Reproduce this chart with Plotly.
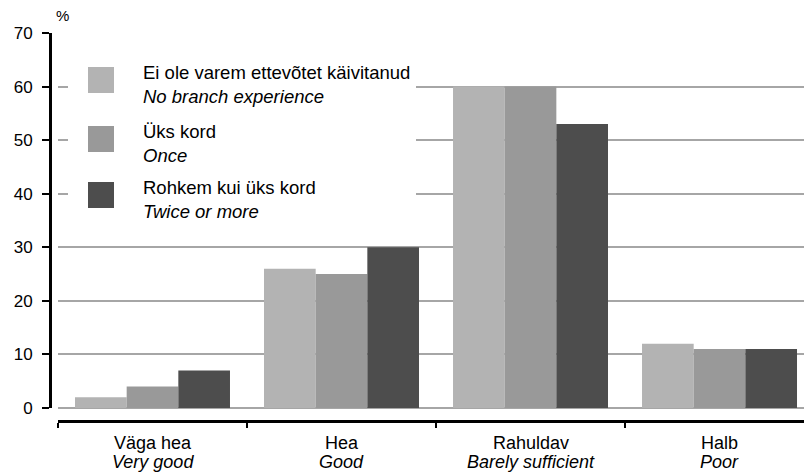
import plotly.graph_objects as go

# ---- data ----
categories_et = ["Väga hea", "Hea", "Rahuldav", "Halb"]
categories_en = ["Very good", "Good", "Barely sufficient", "Poor"]

series_et = ["Ei ole varem ettevõtet käivitanud", "Üks kord", "Rohkem kui üks kord"]
series_en = ["No branch experience", "Once", "Twice or more"]

no_experience = [2, 26, 60, 12]
once = [4, 25, 60, 11]
twice_or_more = [7, 30, 53, 11]

series_values = [no_experience, once, twice_or_more]
colors = ["#b3b3b3", "#999999", "#4d4d4d"]

y_ticks = [0, 10, 20, 30, 40, 50, 60, 70]

# ---- layout geometry (pixels) ----
W, H = 804, 475
ML, MR, MT, MB = 50, 0, 33, 54
PW = W - ML - MR
PH = H - MT - MB


def px_x(px):
    return (px - ML) / PW


def px_y(py):
    return (H - MB - py) / PH


fig = go.Figure()
for name, vals, col in zip(series_et, series_values, colors):
    fig.add_trace(go.Bar(
        x=categories_et, y=vals, name=name,
        marker=dict(color=col, line=dict(width=0)),
        showlegend=False,
    ))

font_family = "Liberation Sans, Arial, sans-serif"

fig.update_layout(
    width=W, height=H,
    margin=dict(l=ML, r=MR, t=MT, b=MB, pad=0, autoexpand=False),
    paper_bgcolor="white", plot_bgcolor="white",
    barmode="group", bargap=0.18, bargroupgap=0,
    font=dict(family=font_family, size=18, color="black"),
    xaxis=dict(
        domain=[px_x(58), 1],
        anchor="free", position=0,
        type="category",
        range=[-0.5, 3.447],
        automargin=False,
        showline=True, linecolor="black", linewidth=3,
        ticks="outside", tickson="boundaries", ticklen=5,
        tickcolor="black", tickwidth=2,
        showgrid=False,
        showticklabels=False,
    ),
    yaxis=dict(
        domain=[px_y(408), 1],
        anchor="free", position=0,
        range=[0, 70],
        tickvals=y_ticks,
        automargin=False,
        showline=True, linecolor="black", linewidth=3,
        ticks="outside", ticklen=7, tickcolor="black", tickwidth=1.5,
        showgrid=True, gridcolor="#a6a6a6", gridwidth=1.5,
        zeroline=True, zerolinecolor="#a6a6a6", zerolinewidth=1.5,
        tickfont=dict(size=17),
        ticklabelstandoff=6,
    ),
)

shapes = []
annotations = []

# category labels (two lines: Estonian + English italic)
for et, en in zip(categories_et, categories_en):
    annotations.append(dict(
        xref="x", yref="paper", x=et, y=px_y(443),
        xanchor="center", yanchor="middle", showarrow=False,
        text=et, font=dict(size=18, family=font_family, color="black"),
    ))
    annotations.append(dict(
        xref="x", yref="paper", x=et, y=px_y(462),
        xanchor="center", yanchor="middle", showarrow=False,
        text=f"<i>{en}</i>", font=dict(size=18, family=font_family, color="black"),
    ))

# legend background box
shapes.append(dict(
    type="rect", xref="paper", yref="paper",
    x0=px_x(68), x1=px_x(416), y0=px_y(228), y1=px_y(48),
    fillcolor="white", line=dict(width=0), layer="above",
))

swatch_centers = [80, 139, 195]
for i, (et, en, col) in enumerate(zip(series_et, series_en, colors)):
    cy = swatch_centers[i]
    shapes.append(dict(
        type="rect", xref="paper", yref="paper",
        x0=px_x(88), x1=px_x(114), y0=px_y(cy + 13), y1=px_y(cy - 13),
        fillcolor=col, line=dict(width=0), layer="above",
    ))
    annotations.append(dict(
        xref="paper", yref="paper", x=px_x(141), y=px_y(cy + 4),
        xanchor="left", yanchor="middle", align="left", showarrow=False,
        text=f"{et}<br><i>{en}</i>",
        font=dict(size=18.5, family=font_family, color="black"),
    ))

# unit label
annotations.append(dict(
    xref="paper", yref="paper", x=px_x(54), y=px_y(16),
    xanchor="left", yanchor="middle", showarrow=False,
    text="%", font=dict(size=15, family=font_family, color="black"),
))

fig.update_layout(shapes=shapes, annotations=annotations)

fig.write_html(
    "out.html",
    config={"displayModeBar": False},
    post_script="document.body.style.margin='0';document.body.style.padding='0';",
)
